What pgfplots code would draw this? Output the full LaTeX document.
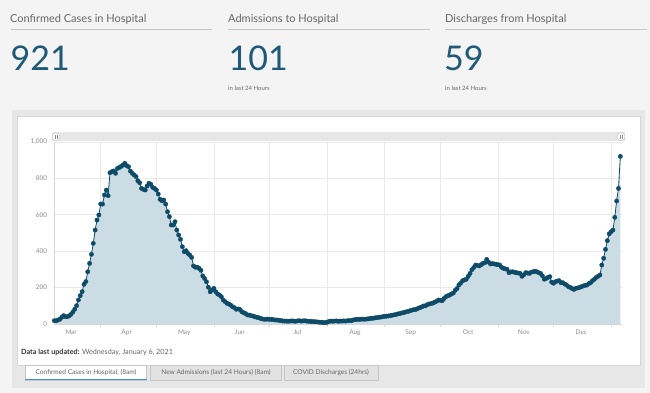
\documentclass[border=0pt]{standalone}
\usepackage{pgfplots}
\pgfplotsset{compat=1.18}
\usepackage{pgfplotstable}
\usepackage{fontspec}
\setmainfont{Lato}
\definecolor{bgc}{HTML}{F4F4F4}
\definecolor{panelc}{HTML}{E7E7E7}
\definecolor{linec}{HTML}{0D4B68}
\definecolor{fillc}{HTML}{CCDCE4}
\definecolor{gridc}{HTML}{E9E9E9}
\definecolor{axisc}{HTML}{D6D6D6}
\definecolor{labc}{HTML}{8C8C8C}
\definecolor{numc}{HTML}{1E5A78}
\definecolor{titc}{HTML}{666666}
\definecolor{tabc}{HTML}{E2E2E2}
\definecolor{tabb}{HTML}{C6C6C6}
\definecolor{bluec}{HTML}{4A8FD6}
\pgfplotstableread{
d v
6 18
7 18
8 22
9 26
10 37
11 46
12 40
13 40
14 45
15 53
16 66
17 81
18 101
19 132
20 156
21 178
22 218
23 233
24 287
25 333
26 383
27 443
28 516
29 571
30 599
31 659
32 659
33 709
34 736
35 705
36 831
37 837
38 841
39 828
40 855
41 860
42 866
43 873
44 883
45 870
46 864
47 840
48 828
49 819
50 810
51 787
52 776
53 745
54 740
55 736
56 758
57 773
58 768
59 751
60 745
61 736
62 714
63 685
64 677
65 681
66 659
67 617
68 590
69 544
70 544
71 562
72 516
73 489
74 465
75 425
76 397
77 403
78 388
79 379
80 366
81 319
82 312
83 312
84 306
85 295
86 264
87 250
88 232
89 202
90 177
91 187
92 196
93 177
94 165
95 159
96 150
97 132
98 123
99 114
100 110
101 104
102 95
103 90
104 81
105 83
106 80
107 68
108 62
109 58
110 50
111 49
112 46
113 44
114 40
115 37
116 35
117 31
118 28
119 26
120 26
121 27
122 25
123 26
124 24
125 22
126 22
127 20
128 19
129 17
130 16
131 16
132 15
133 16
134 17
135 16
136 15
137 17
138 18
139 16
140 17
141 18
142 16
143 15
144 14
145 13
146 13
147 12
148 11
149 10
150 9
151 8
152 7
153 10
154 14
155 16
156 15
157 16
158 17
159 15
160 16
161 16
162 17
163 16
164 18
165 19
166 18
167 22
168 24
169 26
170 25
171 26
172 27
173 26
174 27
175 28
176 30
177 31
178 32
179 34
180 35
181 37
182 38
183 40
184 42
185 43
186 44
187 46
188 48
189 50
190 52
191 55
192 57
193 60
194 62
195 65
196 68
197 70
198 74
199 77
200 79
201 81
202 86
203 90
204 94
205 99
206 100
207 106
208 110
209 112
210 115
211 120
212 125
213 132
214 130
215 128
216 140
217 150
218 155
219 159
220 165
221 170
222 185
223 195
224 214
225 225
226 238
227 242
228 246
229 262
230 278
231 298
232 310
233 324
234 322
235 319
236 326
237 333
238 337
239 355
240 340
241 330
242 332
243 330
244 328
245 326
246 324
247 312
248 306
249 303
250 300
251 282
252 286
253 287
254 284
255 282
256 280
257 278
258 262
259 270
260 282
261 280
262 278
263 285
264 287
265 290
266 287
267 282
268 278
269 265
270 246
271 250
272 256
273 260
274 230
275 224
276 232
277 236
278 238
279 227
280 227
281 220
282 214
283 205
284 201
285 195
286 190
287 196
288 198
289 201
290 205
291 209
292 212
293 214
294 222
295 227
296 238
297 246
298 256
299 262
300 269
301 324
302 361
303 410
304 458
305 495
306 507
307 516
308 586
309 676
310 745
311 921
}\data
\begin{document}
\begin{tikzpicture}[x=1pt,y=1pt]
\useasboundingbox (0,0) rectangle (650,393);
\fill[bgc] (0,0) rectangle (650,393);
% header
\node[anchor=base west, inner sep=0, text=titc, font=\fontsize{11}{13}\selectfont] at (10,370.3) {Confirmed Cases in Hospital};
\node[anchor=base west, inner sep=0, text=titc, font=\fontsize{11}{13}\selectfont] at (228,370.3) {Admissions to Hospital};
\node[anchor=base west, inner sep=0, text=titc, font=\fontsize{11}{13}\selectfont] at (445,370.3) {Discharges from Hospital};
\draw[tabb, line width=0.8pt] (11,363.7) -- (212,363.7);
\draw[tabb, line width=0.8pt] (228,363.7) -- (430,363.7);
\draw[tabb, line width=0.8pt] (445,363.7) -- (647,363.7);
\node[anchor=base west, inner sep=0, text=numc, font=\fontsize{34}{36}\selectfont] at (10.5,322.3) {921};
\node[anchor=base west, inner sep=0, text=numc, font=\fontsize{34}{36}\selectfont] at (228.5,322.3) {101};
\node[anchor=base west, inner sep=0, text=numc, font=\fontsize{34}{36}\selectfont] at (444,322.3) {59};
\node[anchor=base west, inner sep=0, text=titc, font=\fontsize{6}{7}\selectfont] at (228,302) {in last 24 Hours};
\node[anchor=base west, inner sep=0, text=titc, font=\fontsize{6}{7}\selectfont] at (445,302) {in last 24 Hours};
% panel
\fill[panelc] (12,5) rectangle (645,283);
\fill[white] (17.5,28) rectangle (640,277);
\draw[axisc, line width=0.5pt] (17.5,28) rectangle (640,277);
% tabs
\filldraw[fill=white, draw=tabb, line width=0.5pt] (25,13) rectangle (146.7,27.3);
\draw[bluec, line width=1.2pt] (25,13.4) -- (146.7,13.4);
\filldraw[fill=tabc, draw=tabb, line width=0.5pt] (150,13) rectangle (281.7,27.3);
\filldraw[fill=tabc, draw=tabb, line width=0.5pt] (284.3,13) rectangle (378,27.3);
\node[inner sep=0, text=titc, font=\fontsize{6.6}{7}\selectfont] at (86,20.2) {Confirmed Cases in Hospital, (8am)};
\node[inner sep=0, text=titc, font=\fontsize{6.6}{7}\selectfont] at (216,20.2) {New Admissions (last 24 Hours) (8am)};
\node[inner sep=0, text=titc, font=\fontsize{6.6}{7}\selectfont] at (331,20.2) {COVID Discharges (24hrs)};
\node[anchor=base west, inner sep=0, font=\fontsize{7.2}{8}\selectfont] at (21,38.5) {\textcolor{black!80}{\textbf{Data last updated:}} \textcolor{titc}{Wednesday, January 6, 2021}};
% navigator bar
\fill[panelc] (52,252) rectangle (625,260.5);
\filldraw[fill=white, draw=tabb, line width=0.5pt] (56,256.2) circle (4);
\draw[labc, line width=0.4pt] (55.2,254.2) -- (55.2,258.2) (56.8,254.2) -- (56.8,258.2);
\filldraw[fill=white, draw=tabb, line width=0.5pt] (621,256.2) circle (4);
\draw[labc, line width=0.4pt] (620.2,254.2) -- (620.2,258.2) (621.8,254.2) -- (621.8,258.2);
\begin{axis}[
  at={(54pt,69pt)}, anchor=south west,
  scale only axis, width=568pt, height=182pt,
  xmin=5.83, xmax=311.9, ymin=0, ymax=1000,
  axis x line*=bottom, axis y line*=left,
  axis line style={draw=axisc, line width=0.6pt},
  xtick={15,45,76,106,137,168,198,229,259,290},
  xticklabels={Mar,Apr,May,Jun,Jul,Aug,Sep,Oct,Nov,Dec},
  minor xtick={31,61,92,122,153,184,214,245,275,306},
  ytick={0,200,400,600,800,1000},
  yticklabels={0,200,400,600,800,{1,000}},
  xminorgrids=true, xmajorgrids=false, ymajorgrids=true,
  grid style={draw=gridc, line width=0.6pt},
  minor grid style={draw=gridc, line width=0.6pt},
  major tick length=0pt, minor tick length=3pt, tick align=outside,
  minor tick style={draw=axisc, line width=0.6pt},
  ticklabel style={font=\fontsize{6.5}{7}\selectfont, text=labc, inner sep=0pt},
  xticklabel style={yshift=-5.5pt},
  yticklabel style={xshift=-6.7pt},
  clip=false,
]
\addplot[draw=none, fill=fillc] table[x=d,y=v]{\data} \closedcycle;
\addplot[linec, line width=0.8pt, mark=*, mark size=2.2pt, mark options={fill=linec, draw=linec, line width=0.3pt}] table[x=d,y=v]{\data};
\end{axis}
\end{tikzpicture}
\end{document}
